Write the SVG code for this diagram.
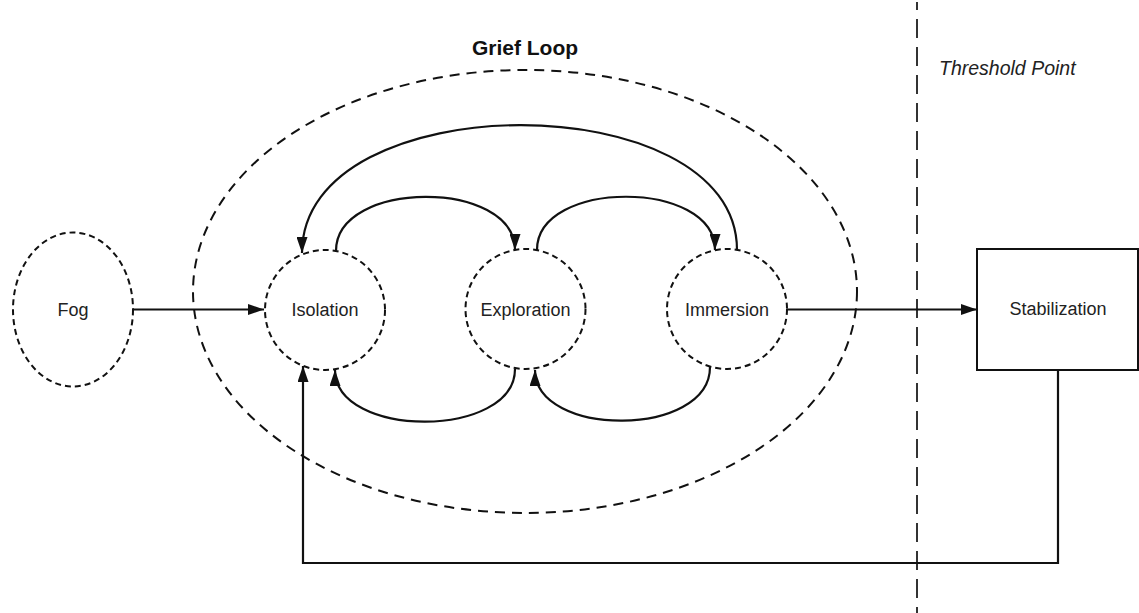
<svg xmlns="http://www.w3.org/2000/svg" width="1139" height="613" viewBox="0 0 1139 613">
<style>
.lbl{font-family:"Liberation Sans",Arial,sans-serif;font-size:18px;fill:#222;text-anchor:middle;dominant-baseline:central}
.node{fill:none;stroke:#111;stroke-width:2;stroke-dasharray:6 4}
.edge{fill:none;stroke:#111;stroke-width:2.2}
</style>
<defs>
<marker id="arr" viewBox="0 0 16 11" refX="16" refY="5.5" markerWidth="16" markerHeight="11" markerUnits="userSpaceOnUse" orient="auto">
<path d="M0,0 L16,5.5 L0,11 Z" fill="#111"/>
</marker>
</defs>
<rect width="1139" height="613" fill="#fff"/>
<g id="threshold">
<line x1="917" y1="2" x2="917" y2="613" stroke="#333" stroke-width="2" stroke-dasharray="19 9" stroke-dashoffset="11"/>
<text x="939" y="75" font-family="'Liberation Sans',Arial,sans-serif" font-size="19.5" font-style="italic" fill="#222">Threshold Point</text>
</g>
<g id="grief-loop">
<ellipse cx="525" cy="291.5" rx="332" ry="221.5" fill="none" stroke="#111" stroke-width="2" stroke-dasharray="10 7"/>
<text x="525" y="55" font-family="'Liberation Sans',Arial,sans-serif" font-size="21" font-weight="bold" fill="#111" text-anchor="middle">Grief Loop</text>
</g>
<g id="connectors">
<line class="edge" x1="133" y1="309.5" x2="264" y2="309.5" marker-end="url(#arr)"/>
<line class="edge" x1="787" y1="309.5" x2="977" y2="309.5" marker-end="url(#arr)"/>
<path class="edge" d="M336,251 C336,179 515,179 515,250" marker-end="url(#arr)"/>
<path class="edge" d="M537,250 C537,179 715,179 715,250" marker-end="url(#arr)"/>
<path class="edge" d="M737,250 C737,83 302,83 302,253" marker-end="url(#arr)"/>
<path class="edge" d="M515,369 C515,439 335,439 335,370" marker-end="url(#arr)"/>
<path class="edge" d="M710,367 C710,438 535,438 535,370" marker-end="url(#arr)"/>
<path class="edge" d="M1058,370 L1058,563 L303,563 L303,366" marker-end="url(#arr)"/>
</g>
<g id="fog">
<ellipse class="node" cx="73" cy="309.5" rx="60" ry="77"/>
<text class="lbl" x="73" y="309.5">Fog</text>
</g>
<g id="isolation">
<circle class="node" cx="325" cy="310" r="60"/>
<text class="lbl" x="325" y="309.5">Isolation</text>
</g>
<g id="exploration">
<circle class="node" cx="525.5" cy="309" r="60"/>
<text class="lbl" x="525.5" y="309.5">Exploration</text>
</g>
<g id="immersion">
<circle class="node" cx="727" cy="309" r="60"/>
<text class="lbl" x="727" y="309.5">Immersion</text>
</g>
<g id="stabilization">
<rect x="977" y="249" width="161" height="121" fill="#fff" stroke="#111" stroke-width="2"/>
<text class="lbl" x="1058" y="309">Stabilization</text>
</g>
</svg>
